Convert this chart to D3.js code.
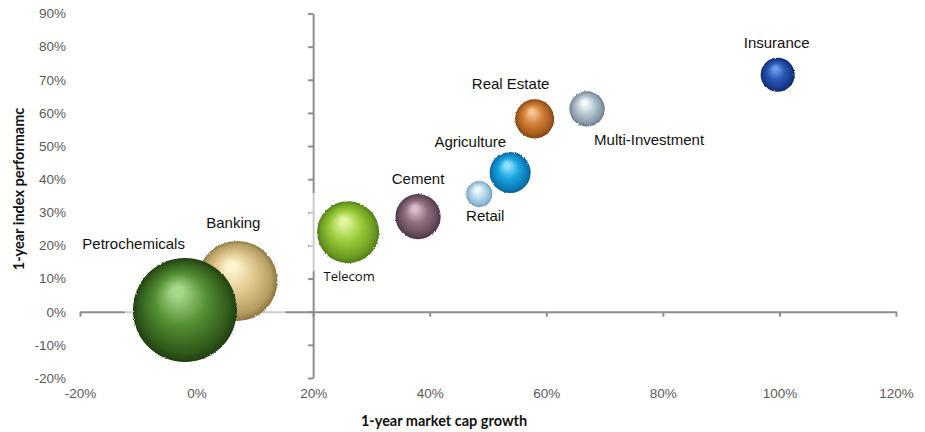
<!DOCTYPE html>
<html>
<head>
<meta charset="utf-8">
<script src="https://cdn.jsdelivr.net/npm/d3@7"></script>
<style>
  html, body { margin: 0; padding: 0; background: #ffffff; }
  svg { display: block; }
</style>
</head>
<body>
<svg id="chart" width="925" height="432"></svg>
<script>
// Sector data: 1-year market cap growth (x), 1-year index performance (y), bubble size
const sectors   = ["Banking", "Petrochemicals", "Telecom", "Cement", "Retail", "Agriculture", "Real Estate", "Multi-Investment", "Insurance"];
const capGrowth = [0.07, -0.02, 0.26, 0.38, 0.485, 0.538, 0.58, 0.67, 0.997];
const indexPerf = [0.093, 0.005, 0.24, 0.287, 0.355, 0.42, 0.582, 0.612, 0.715];
const capSize   = [160, 270, 96, 51, 17, 42, 38, 31, 29];

const xTicks = [-0.2, 0, 0.2, 0.4, 0.6, 0.8, 1.0, 1.2];
const yTicks = [-0.2, -0.1, 0, 0.1, 0.2, 0.3, 0.4, 0.5, 0.6, 0.7, 0.8, 0.9];

const xTitle = "1-year market cap growth";
const yTitle = "1-year index performamc";

// Sphere shading per sector: highlight, body, shadow, rim
const shading = {
  "Petrochemicals":   ["#a6d78a", "#548f32", "#30591b", "#203f10"],
  "Banking":          ["#fff4d2", "#e0c88f", "#b59c60", "#8c7442"],
  "Telecom":          ["#e4f6a0", "#9acd3a", "#6b9b22", "#4f7a18"],
  "Cement":           ["#d8bfcb", "#8f6e7c", "#63495a", "#4a3444"],
  "Retail":           ["#f6fcff", "#bddcee", "#8db8d4", "#6a9ab8"],
  "Agriculture":      ["#92e2ff", "#1aa6e0", "#0b78b5", "#07609a"],
  "Real Estate":      ["#f6c692", "#d08039", "#a55a1c", "#7e4212"],
  "Multi-Investment": ["#f8fbfd", "#b9c8d4", "#8898a6", "#66778a"],
  "Insurance":        ["#6e9be8", "#2a58b8", "#17388a", "#0f2866"]
};

// Label placement relative to each bubble centre
const labelPlace = {
  "Petrochemicals":   { dx: 0,   dy: -61, anchor: "end" },
  "Banking":          { dx: -4,  dy: -53, anchor: "middle" },
  "Telecom":          { dx: 1,   dy: 49,  anchor: "middle", alt: true },
  "Cement":           { dx: 0,   dy: -33, anchor: "middle" },
  "Retail":           { dx: 6,   dy: 27,  anchor: "middle" },
  "Agriculture":      { dx: -4,  dy: -26, anchor: "end" },
  "Real Estate":      { dx: -24, dy: -30, anchor: "middle" },
  "Multi-Investment": { dx: 7,   dy: 36,  anchor: "start" },
  "Insurance":        { dx: -1,  dy: -27, anchor: "middle" }
};

const svg = d3.select("#chart");

const x = d3.scaleLinear().domain([-0.2, 1.2]).range([80, 896]);
const y = d3.scaleLinear().domain([-0.2, 0.9]).range([378, 13.5]);
const r = d3.scaleSqrt().domain([0, d3.max(capSize)]).range([0, 52]);

// percentages with a plain hyphen for negatives
const pct = v => d3.format(".0%")(v).replace("\u2212", "-");
const axisColor = "#8e8e8e";

const defs = svg.append("defs");

// Slightly ragged bubble edges
const rough = defs.append("filter").attr("id", "rough")
  .attr("x", "-10%").attr("y", "-10%").attr("width", "120%").attr("height", "120%");
rough.append("feTurbulence").attr("type", "fractalNoise").attr("baseFrequency", 1.1)
  .attr("numOctaves", 1).attr("seed", 3).attr("result", "noise");
rough.append("feDisplacementMap").attr("in", "SourceGraphic").attr("in2", "noise")
  .attr("scale", 2.6).attr("xChannelSelector", "R").attr("yChannelSelector", "G");

sectors.forEach((s, i) => {
  const c = shading[s];
  const g = defs.append("radialGradient").attr("id", "sphere" + i)
    .attr("cx", "50%").attr("cy", "50%").attr("r", "50%")
    .attr("fx", "42%").attr("fy", "30%");
  [[0, c[0]], [0.1, c[0]], [0.5, c[1]], [0.87, c[2]], [1, c[3]]].forEach(([o, col]) =>
    g.append("stop").attr("offset", o).attr("stop-color", col));
});

// Axis lines: horizontal through y = 0, vertical through x = 20%
const xLine = d3.axisBottom(x).tickValues(xTicks).tickSize(5).tickSizeOuter(0).tickFormat("");
const gxl = svg.append("g").attr("transform", `translate(0,${y(0)})`).call(xLine);
gxl.select(".domain").attr("stroke", axisColor).attr("stroke-width", 2);
gxl.selectAll(".tick line").attr("stroke", axisColor).attr("stroke-width", 2);

const yLine = d3.axisLeft(y).tickValues(yTicks).tickSize(5).tickSizeOuter(0).tickFormat("");
const gyl = svg.append("g").attr("transform", `translate(${x(0.2)},0)`).call(yLine);
gyl.select(".domain").attr("stroke", axisColor).attr("stroke-width", 2);
gyl.selectAll(".tick line").attr("stroke", axisColor).attr("stroke-width", 2);

// Tick labels sit at the outer edges of the plot
const xLab = d3.axisBottom(x).tickValues(xTicks).tickSize(0).tickPadding(0).tickFormat(pct);
const gx = svg.append("g").attr("transform", `translate(0,${y(-0.2) + 10})`).call(xLab);
gx.select(".domain").remove();
gx.selectAll("text").attr("font-family", "Liberation Sans, Arial, sans-serif")
  .attr("font-size", 13.5).attr("fill", "#5a5a5a");

const yLab = d3.axisLeft(y).tickValues(yTicks).tickSize(0).tickPadding(0).tickFormat(pct);
const gy = svg.append("g").attr("transform", `translate(66,0)`).call(yLab);
gy.select(".domain").remove();
gy.selectAll("text").attr("font-family", "Liberation Sans, Arial, sans-serif")
  .attr("font-size", 13.5).attr("fill", "#5a5a5a");

// Axis titles
svg.append("text").attr("x", 444).attr("y", 426).attr("text-anchor", "middle")
  .attr("font-family", "Lato, Open Sans, sans-serif").attr("font-weight", "bold")
  .attr("font-size", 14.5).attr("fill", "#111").text(xTitle);
svg.append("text").attr("transform", "translate(24,189) rotate(-90)").attr("text-anchor", "middle")
  .attr("font-family", "Lato, Open Sans, sans-serif").attr("font-weight", "bold")
  .attr("font-size", 14.5).attr("fill", "#111").text(yTitle);

// Bubbles
const rows = sectors.map((s, i) => ({ s, i, gx: capGrowth[i], gy: indexPerf[i], size: capSize[i] }));

// faint picture backdrop behind each bubble (all drawn beneath the bubbles)
svg.append("g").selectAll("rect").data(rows).join("rect")
  .attr("x", d => x(d.gx) - r(d.size) - 8)
  .attr("y", d => y(d.gy) - r(d.size) - 8)
  .attr("width", d => 2 * r(d.size) + 16)
  .attr("height", d => 2 * r(d.size) + 16)
  .attr("fill", "#ffffff").attr("opacity", 0.55);

svg.append("g").selectAll("circle").data(rows).join("circle")
  .attr("cx", d => x(d.gx)).attr("cy", d => y(d.gy)).attr("r", d => r(d.size))
  .attr("fill", d => `url(#sphere${d.i})`)
  .attr("filter", "url(#rough)");

// Sector labels
svg.append("g").selectAll("text").data(rows).join("text")
  .attr("x", d => x(d.gx) + labelPlace[d.s].dx)
  .attr("y", d => y(d.gy) + labelPlace[d.s].dy)
  .attr("text-anchor", d => labelPlace[d.s].anchor)
  .attr("font-family", d => labelPlace[d.s].alt ? "Open Sans, sans-serif" : "Liberation Sans, Arial, sans-serif")
  .attr("font-size", d => labelPlace[d.s].alt ? 13 : 15)
  .attr("fill", "#111")
  .text(d => d.s);
</script>
</body>
</html>
